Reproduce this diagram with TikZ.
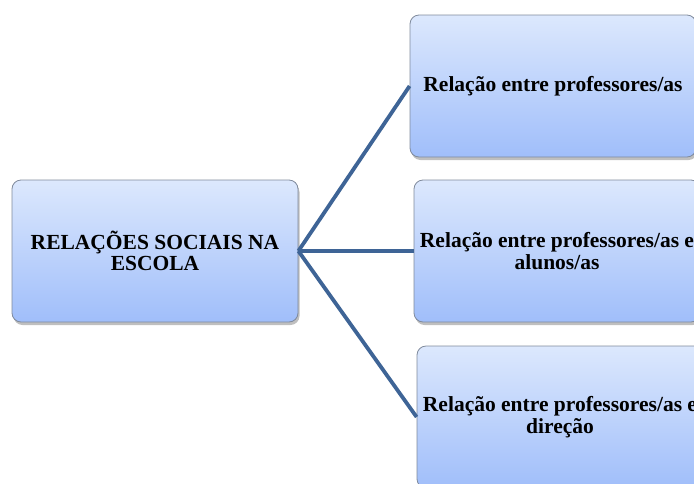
\documentclass[tikz,border=0pt]{standalone}
\usepackage{fontspec}
\setmainfont{Liberation Serif}
\usetikzlibrary{positioning,shadows}

\definecolor{boxtop}{HTML}{DCE8FD}
\definecolor{boxbottom}{HTML}{A0BEFA}
\definecolor{boxline}{HTML}{7F8A9C}
\definecolor{linkblue}{HTML}{3E6496}

\begin{document}
\begin{tikzpicture}[
    x=1pt, y=-1pt,
    caixa/.style={
        rectangle,
        rounded corners=9pt,
        draw=boxline,
        line width=0.8pt,
        top color=boxtop,
        bottom color=boxbottom,
        minimum width=286pt,
        minimum height=142pt,
        inner sep=0pt,
        align=center,
        font=\fontsize{21.5}{21.5}\selectfont\bfseries,
        drop shadow={shadow xshift=1.5pt, shadow yshift=-3pt, opacity=0.25, fill=black},},
    liga/.style={
        linkblue,
        line width=3.8pt,}
]
\useasboundingbox (0,0) rectangle (694,483);
\clip (0,0) rectangle (694,483);

\node[caixa] (escola) at (155,251) {RELAÇÕES SOCIAIS NA\\ESCOLA};
\node[caixa] (prof) at (553,86) {Relação entre professores/as};
\node[caixa] (alunos) at (557,251) {Relação entre professores/as e\\alunos/as};
\node[caixa] (direcao) at (560,417) {Relação entre professores/as e\\direção};

\draw[liga] (escola.east) -- (prof.west);
\draw[liga] (escola.east) -- (alunos.west);
\draw[liga] (escola.east) -- (direcao.west);

\end{tikzpicture}
\end{document}
